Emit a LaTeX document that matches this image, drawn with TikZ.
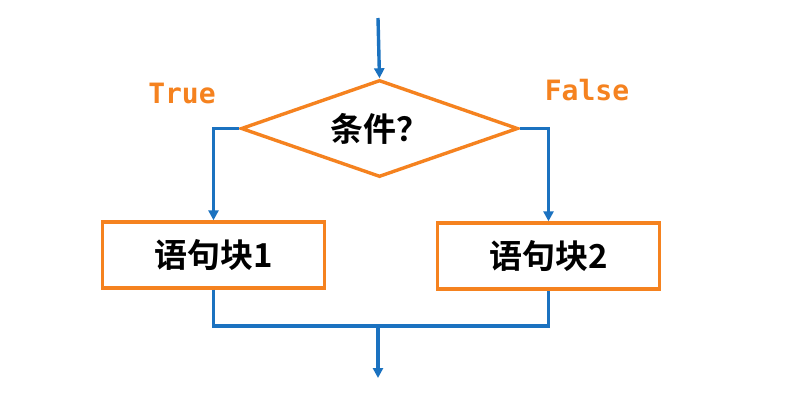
\documentclass[tikz,border=0pt]{standalone}
\usepackage{fontspec}
\newfontfamily\cjk{Noto Sans CJK SC}[BoldFont={Noto Sans CJK SC Bold}]
\newfontfamily\mono{DejaVu Sans Mono}
\usetikzlibrary{shapes.geometric,arrows.meta}
\definecolor{fb}{HTML}{1B72C0}
\definecolor{fo}{HTML}{F5821F}
\begin{document}
\begin{tikzpicture}[x=1pt,y=-1pt,
  ln/.style={draw=fb,line width=3.4pt},
  arr/.style={ln,-{Triangle[length=10pt,width=10pt]}},
  box/.style={draw=fo,line width=3.4pt,fill=white,minimum width=222pt,minimum height=66pt,font=\cjk\bfseries\fontsize{33}{36}\selectfont},
  lbl/.style={text=fo,font=\mono\bfseries\fontsize{28}{30}\selectfont}]
\useasboundingbox (0,0) rectangle (798,415);
\fill[white] (0,0) rectangle (798,415);
\coordinate (top) at (378,18);
\node[draw=fo,line width=3.4pt,diamond,aspect=2.85,minimum width=277pt,minimum height=97pt,inner sep=0pt,font=\cjk\bfseries\fontsize{33}{36}\selectfont] (d) at (379.5,128.5) {条件？};
\node[box] (b1) at (213.5,255) {语句块1};
\node[box] (b2) at (548.5,256) {语句块2};
\node[lbl] (t) at (182,93) {True};
\node[lbl] (f) at (587,90) {False};
\coordinate (m) at (378,326);
\coordinate (e) at (378,378);
\draw[arr] (top) -- (d.north);
\draw[arr] (d.west) -| (b1.north);
\draw[arr] (d.east) -| (b2.north);
\draw[ln] (b1.south) |- (m) -| (b2.south);
\draw[arr] (m) -- (e);
\end{tikzpicture}
\end{document}
